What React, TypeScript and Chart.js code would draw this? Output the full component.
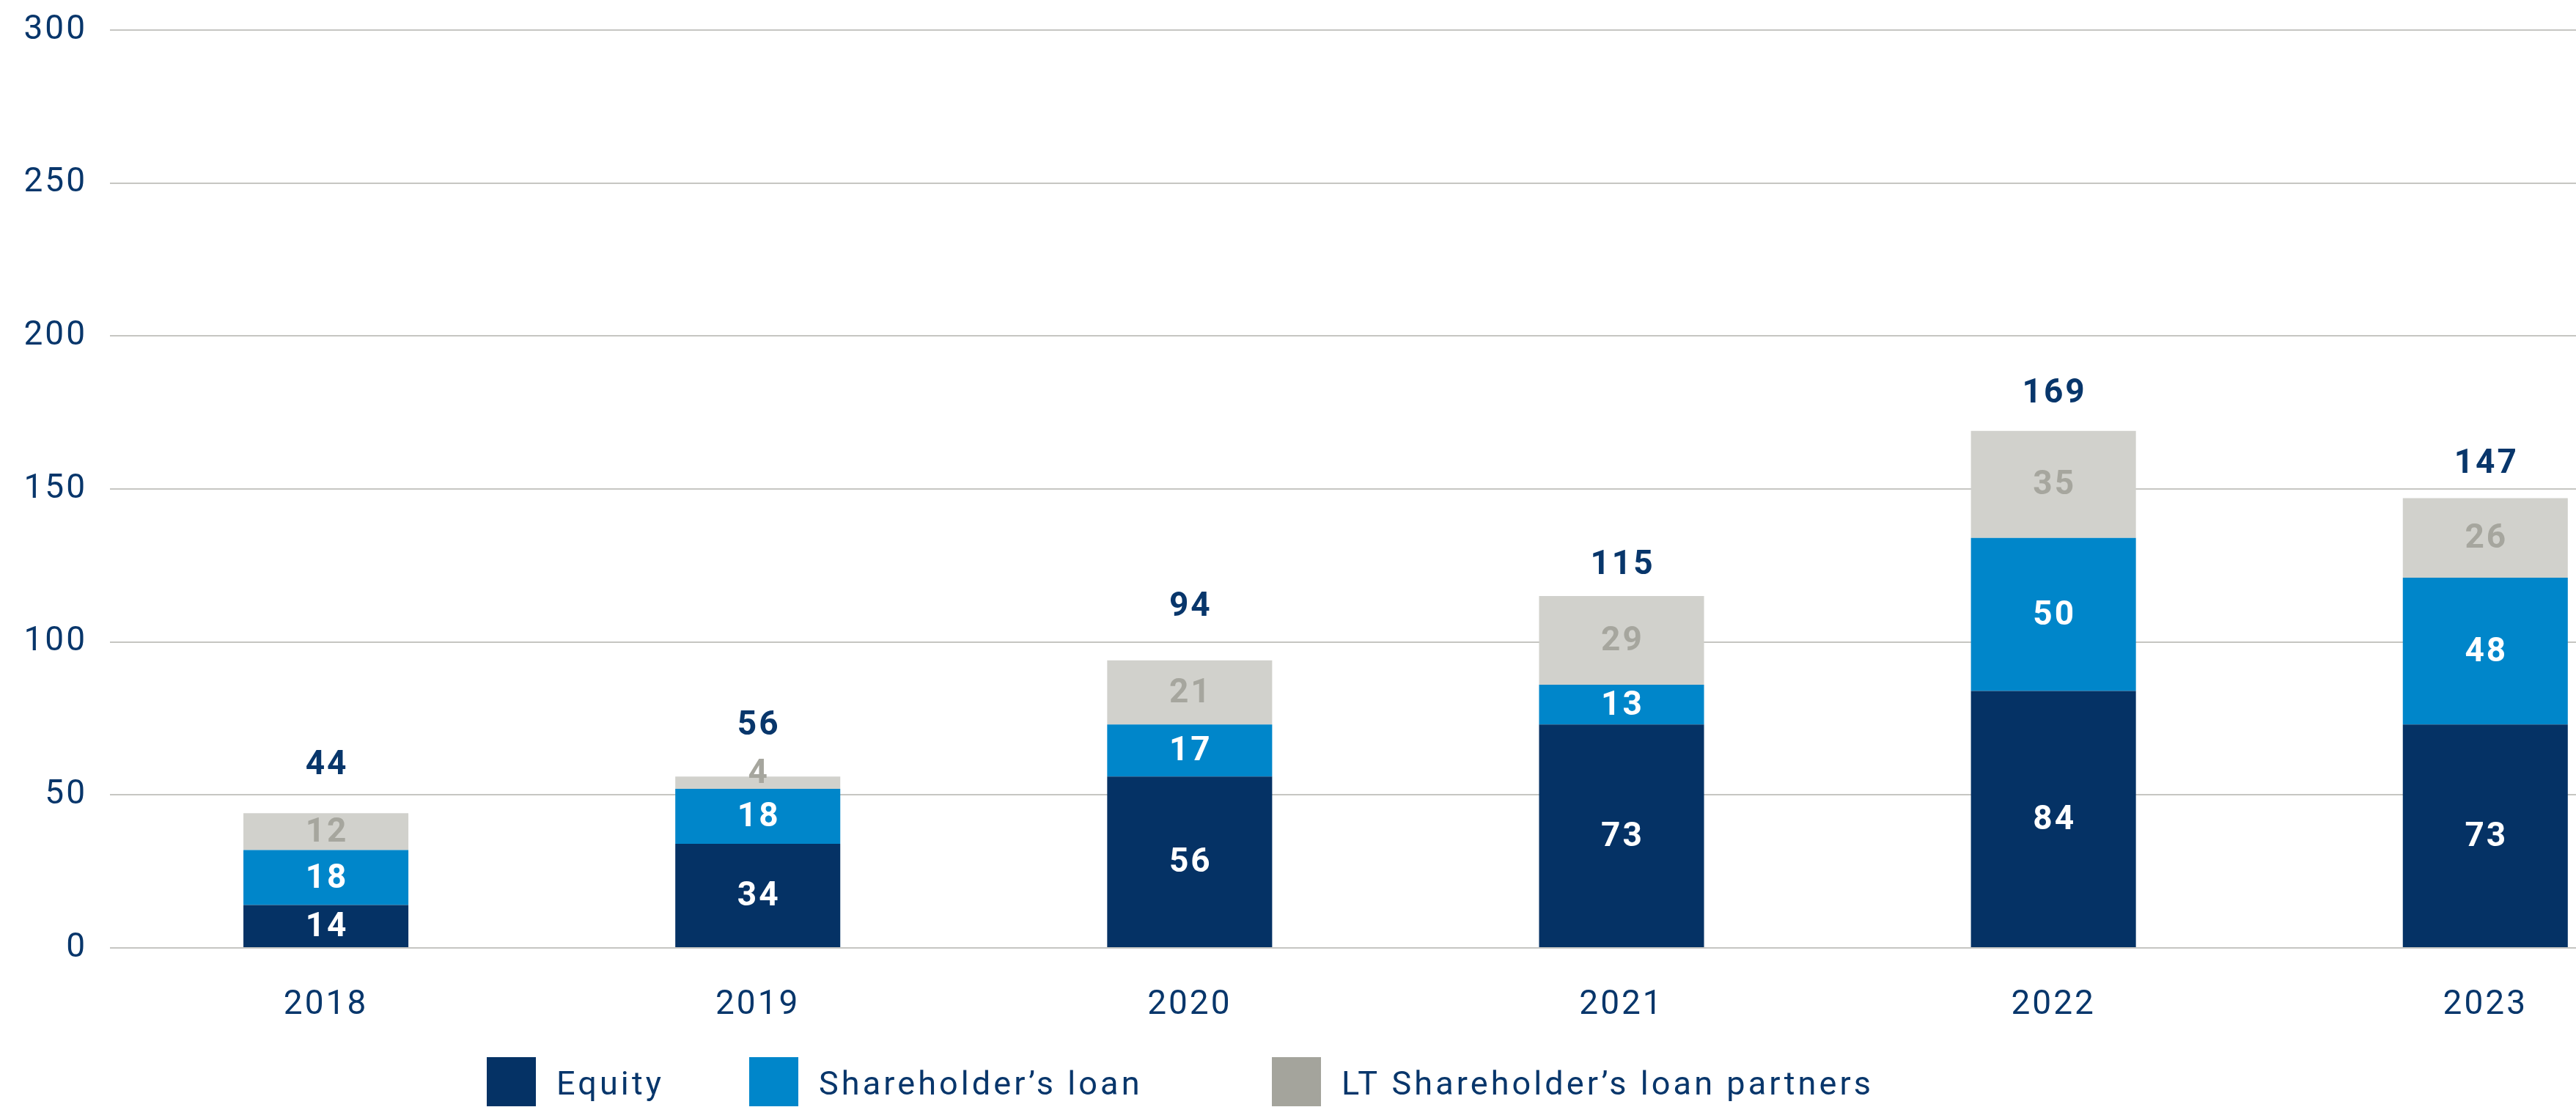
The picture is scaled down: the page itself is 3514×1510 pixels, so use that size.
import { useEffect, useRef } from 'react';
import { Chart, registerables } from 'chart.js';

Chart.register(...registerables);

// ---- data ----
const years = ['2018', '2019', '2020', '2021', '2022', '2023'];
const equity = [14, 34, 56, 73, 84, 73];
const shareholderLoan = [18, 18, 17, 13, 50, 48];
const ltPartnerLoan = [12, 4, 21, 29, 35, 26];
const totals = [44, 56, 94, 115, 169, 147];
const yTicks = [0, 50, 100, 150, 200, 250, 300];
const seriesNames = ['Equity', 'Shareholder’s loan', 'LT Shareholder’s loan partners'];

// ---- styles ----
const NAVY = '#053265';
const TEXT_NAVY = '#08366b';
const BLUE = '#0086ca';
const GREY_BAR = '#d1d1cc';
const GREY_LEGEND = '#a4a49c';
const GREY_LABEL = '#a6a69e';
const GRID = '#c6c6c2';
const FONT = 'Roboto';
const FS = 46;
const barColors = [NAVY, BLUE, GREY_BAR];
const legendColors = [NAVY, BLUE, GREY_LEGEND];
const labelColors = ['#ffffff', '#ffffff', GREY_LABEL];
const totalGaps = [67, 71, 74, 44, 52, 48];
const legendStarts = [664, 1022, 1735];
const SPACING = '3px';

const spacingPlugin = {
  id: 'spacing',
  beforeLayout(chart: any) {
    chart.ctx.letterSpacing = SPACING;
  },
  beforeDraw(chart: any) {
    chart.ctx.letterSpacing = SPACING;
  },
};

const labelPlugin = {
  id: 'valueLabels',
  afterDatasetsDraw(chart: any) {
    const ctx = chart.ctx;
    const ys = chart.scales.y;
    const series = [equity, shareholderLoan, ltPartnerLoan];
    ctx.save();
    ctx.letterSpacing = SPACING;
    ctx.textAlign = 'center';
    ctx.textBaseline = 'middle';
    ctx.font = `bold ${FS}px ${FONT}`;
    series.forEach((vals, di) => {
      const meta = chart.getDatasetMeta(di);
      meta.data.forEach((bar: any, i: number) => {
        const p = bar.getProps(['x', 'y', 'base'], true);
        const cy = Math.min((p.y + p.base) / 2, p.base - 21);
        ctx.fillStyle = labelColors[di];
        ctx.fillText(String(vals[i]), p.x + 1.5, cy + 2);
      });
    });
    const topMeta = chart.getDatasetMeta(2);
    totals.forEach((t, i) => {
      const bar: any = topMeta.data[i];
      ctx.fillStyle = TEXT_NAVY;
      ctx.fillText(String(t), bar.x + 1.5, ys.getPixelForValue(t) - totalGaps[i] + 2);
    });
    ctx.restore();
  },
};

const legendPlugin = {
  id: 'customLegend',
  afterDraw(chart: any) {
    const ctx = chart.ctx;
    ctx.save();
    ctx.letterSpacing = '4.1px';
    ctx.font = `${FS - 1}px ${FONT}`;
    ctx.textAlign = 'left';
    ctx.textBaseline = 'alphabetic';
    seriesNames.forEach((name, i) => {
      const x = legendStarts[i];
      ctx.fillStyle = legendColors[i];
      ctx.fillRect(x, 1442, 67, 67);
      ctx.fillStyle = TEXT_NAVY;
      ctx.fillText(name, x + 67 + 28, 1493);
    });
    ctx.restore();
  },
};

export default function App() {
  const ref = useRef<HTMLCanvasElement>(null);
  useEffect(() => {
    document.body.style.margin = '0';
    const datasets = [equity, shareholderLoan, ltPartnerLoan].map((vals, di) => ({
      label: seriesNames[di],
      data: vals.map((v, i) => ({ x: i, y: v })),
      backgroundColor: barColors[di],
      borderWidth: 0,
      categoryPercentage: 1,
      barPercentage: 0.382,
    }));
    const chart = new Chart(ref.current as HTMLCanvasElement, {
      type: 'bar',
      data: { datasets } as any,
      options: {
        animation: false,
        responsive: false,
        devicePixelRatio: 1,
        layout: { padding: { top: 41, left: 0, right: 0, bottom: 0 } },
        plugins: { legend: { display: false }, tooltip: { enabled: false } },
        scales: {
          x: {
            type: 'linear',
            stacked: true,
            offset: false,
            min: -0.5,
            max: 5.21,
            grid: { display: false, offset: false },
            border: { display: false },
            afterBuildTicks: (s: any) => {
              s.ticks = years.map((_, i) => ({ value: i }));
            },
            afterFit: (s: any) => {
              s.height = 217;
              s.paddingLeft = 0;
              s.paddingRight = 0;
            },
            ticks: {
              padding: 43,
              color: TEXT_NAVY,
              font: { family: FONT, size: FS },
              callback: (v: any) => years[v] ?? '',
              maxRotation: 0,
              autoSkip: false,
            },
          },
          y: {
            stacked: true,
            min: 0,
            max: 300,
            afterBuildTicks: (s: any) => {
              s.ticks = yTicks.map((v) => ({ value: v }));
            },
            afterFit: (s: any) => {
              s.width = 150;
              s.paddingTop = 0;
              s.paddingBottom = 0;
            },
            grid: { color: GRID, lineWidth: 2, drawTicks: false },
            border: { display: false },
            ticks: {
              padding: 31,
              color: TEXT_NAVY,
              font: { family: FONT, size: FS },
            },
          },
        },
      } as any,
      plugins: [spacingPlugin, labelPlugin, legendPlugin],
    });
    return () => chart.destroy();
  }, []);
  return (
    <div style={{ width: 3514, height: 1510 }}>
      <canvas ref={ref} width={3514} height={1510} style={{ display: 'block' }} />
    </div>
  );
}
